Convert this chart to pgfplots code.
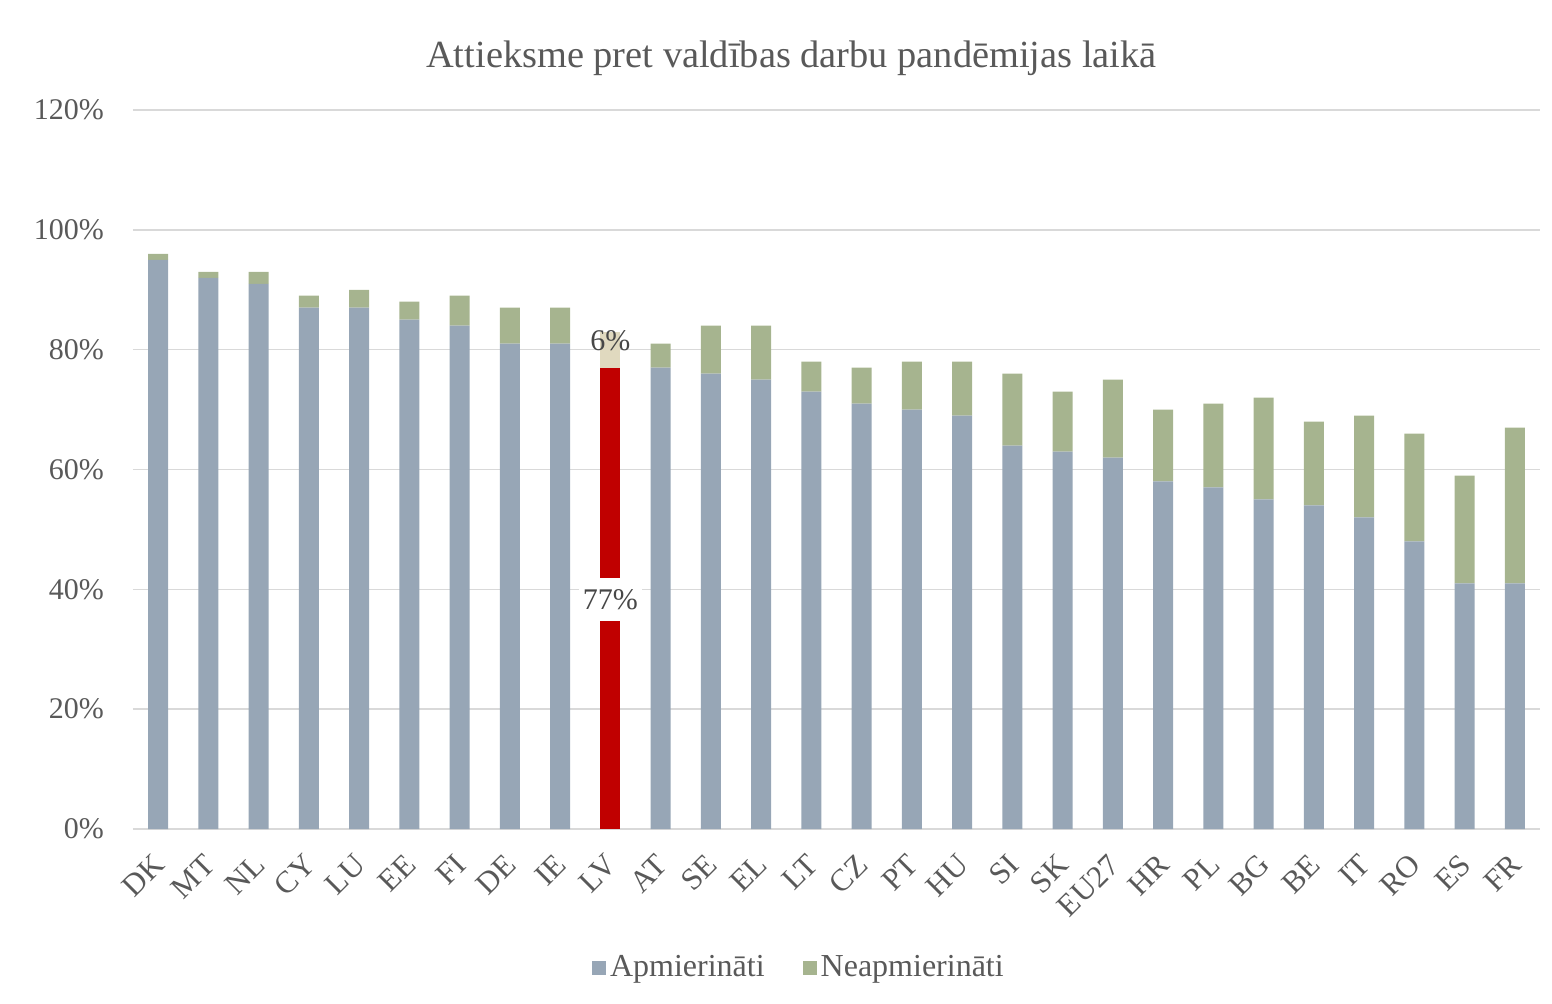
\documentclass[border=0pt]{standalone}
\usepackage{pgfplots}
\pgfplotsset{compat=1.18}
\usepackage{fontspec}
\setmainfont{Liberation Serif}
\definecolor{txt}{HTML}{595959}
\definecolor{cblue}{HTML}{97A6B6}
\definecolor{cgreen}{HTML}{A6B48F}
\definecolor{cred}{HTML}{C00000}
\definecolor{cbeige}{HTML}{E0D9BF}
\definecolor{cgrid}{HTML}{D9D9D9}
\begin{document}
\begin{tikzpicture}
\path[use as bounding box] (-66.5pt,-87pt) rectangle (709.5pt,414.5pt);
\begin{axis}[
  at={(0,0)}, anchor=south west,
  scale only axis, width=703.5pt, height=359.5pt,
  ybar stacked, bar width=10pt,
  xmin=-0.5, xmax=27.5, ymin=0, ymax=120,
  xtick={0,...,27},
  xticklabels={DK,MT,NL,CY,LU,EE,FI,DE,IE,LV,AT,SE,EL,LT,CZ,PT,HU,SI,SK,EU27,HR,PL,BG,BE,IT,RO,ES,FR},
  xticklabel style={xshift=3pt, yshift=-13pt, rotate=45, anchor=east, font=\fontsize{15.5}{15.5}\selectfont, text=txt},
  ytick={0,20,40,60,80,100,120},
  yticklabels={0\%,20\%,40\%,60\%,80\%,100\%,120\%},
  yticklabel style={font=\fontsize{15}{15}\selectfont, text=txt, xshift=-11pt},
  ymajorgrids, grid style={cgrid, line width=0.8pt},
  axis line style={draw=none}, tick style={draw=none},
  title={Attieksme pret valdības darbu pandēmijas laikā},
  title style={at={(axis description cs:0.468,1)}, anchor=center, yshift=20pt, font=\fontsize{19.2}{19.2}\selectfont, text=txt},
  legend columns=2,
  legend style={at={(axis description cs:0.474,-0.193)}, anchor=center, draw=none, fill=none,
    font=\fontsize{16}{16}\selectfont, text=txt, /tikz/every even column/.append style={column sep=17pt}},
  legend image code/.code={\fill[#1] (-2pt,-3.5pt) rectangle (5pt,3.5pt);},
]
\addplot[fill=cblue, draw=none] coordinates {
(0,95)(1,92)(2,91)(3,87)(4,87)(5,85)(6,84)(7,81)(8,81)(9,0)(10,77)(11,76)(12,75)(13,73)
(14,71)(15,70)(16,69)(17,64)(18,63)(19,62)(20,58)(21,57)(22,55)(23,54)(24,52)(25,48)(26,41)(27,41)};
\addlegendentry{Apmierināti}
\addplot[fill=cred, draw=none, forget plot] coordinates {
(0,0)(1,0)(2,0)(3,0)(4,0)(5,0)(6,0)(7,0)(8,0)(9,77)(10,0)(11,0)(12,0)(13,0)
(14,0)(15,0)(16,0)(17,0)(18,0)(19,0)(20,0)(21,0)(22,0)(23,0)(24,0)(25,0)(26,0)(27,0)};
\addplot[fill=cgreen, draw=none] coordinates {
(0,1)(1,1)(2,2)(3,2)(4,3)(5,3)(6,5)(7,6)(8,6)(9,0)(10,4)(11,8)(12,9)(13,5)
(14,6)(15,8)(16,9)(17,12)(18,10)(19,13)(20,12)(21,14)(22,17)(23,14)(24,17)(25,18)(26,18)(27,26)};
\addlegendentry{Neapmierināti}
\addplot[fill=cbeige, draw=none, forget plot] coordinates {
(0,0)(1,0)(2,0)(3,0)(4,0)(5,0)(6,0)(7,0)(8,0)(9,6)(10,0)(11,0)(12,0)(13,0)
(14,0)(15,0)(16,0)(17,0)(18,0)(19,0)(20,0)(21,0)(22,0)(23,0)(24,0)(25,0)(26,0)(27,0)};
\coordinate (l77) at (axis cs:9,38.3);
\coordinate (l6) at (axis cs:9,81.5);
\end{axis}
\node[font=\fontsize{15}{15}\selectfont, text=txt!80!black, fill=white, inner xsep=2pt, inner ysep=5.5pt] at (l77) {77\%};
\node[font=\fontsize{15}{15}\selectfont, text=txt!80!black, inner sep=0pt] at (l6) {6\%};
\end{tikzpicture}
\end{document}
